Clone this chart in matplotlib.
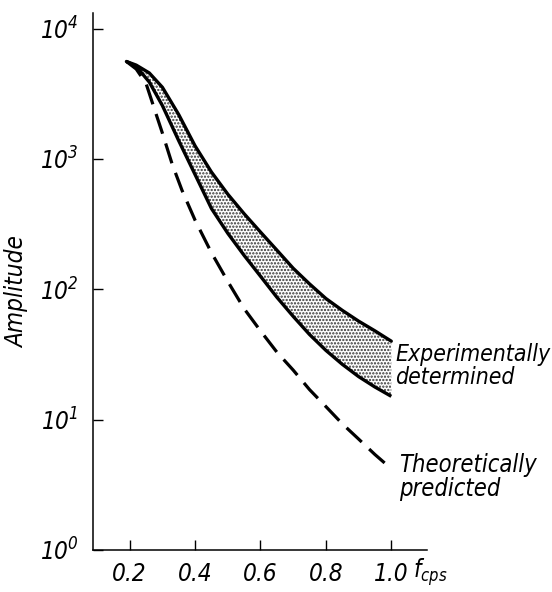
import matplotlib
matplotlib.use("Agg")
import matplotlib.pyplot as plt
from matplotlib import font_manager as fm

# ---- data ----
freq_exp = [0.19, 0.22, 0.26, 0.30, 0.35, 0.40, 0.45, 0.50, 0.55, 0.60, 0.65,
            0.70, 0.75, 0.80, 0.85, 0.90, 0.95, 1.00]
exp_upper = [5600, 5250, 4570, 3550, 2190, 1260, 794, 537, 380, 275, 200,
             145, 110, 85, 69, 57, 48, 40]
exp_lower = [5600, 5130, 3890, 2570, 1380, 759, 417, 269, 182, 126, 87,
             62, 45, 34, 26.6, 21.4, 17.8, 15.1]
freq_theo = [0.19, 0.22, 0.25, 0.28, 0.30, 0.33, 0.36, 0.40, 0.45, 0.50, 0.55,
             0.60, 0.65, 0.70, 0.75, 0.80, 0.85, 0.90, 0.95, 1.00]
theo = [5600, 4900, 3800, 2240, 1580, 912, 575, 339, 191, 115, 71,
        48, 33, 24, 17, 12.6, 9.3, 7.1, 5.4, 4.2]

xticks = [0.2, 0.4, 0.6, 0.8, 1.0]
xtick_labels = ["0.2", "0.4", "0.6", "0.8", "1.0"]
yticks = [1, 10, 100, 1000, 10000]
ytick_labels = [r"$10^{0}$", r"$10^{1}$", r"$10^{2}$", r"$10^{3}$", r"$10^{4}$"]

# ---- fonts: look for a condensed / narrow face ----
cond = [f for f in fm.fontManager.ttflist
        if f.stretch in ('condensed', 'semi-condensed', 'extra-condensed',
                         'ultra-condensed')
        or 'Condensed' in f.fname or 'Narrow' in f.fname]
fam, stretch, fs = 'DejaVu Sans', 'normal', 14
if cond:
    ital = [f for f in cond if f.style in ('italic', 'oblique')]
    pick = (ital or cond)[0]
    fam, stretch, fs = pick.name, pick.stretch, 17.5

plt.rcParams['font.family'] = [fam, 'DejaVu Sans']
plt.rcParams['font.style'] = 'italic'
plt.rcParams['font.stretch'] = stretch
plt.rcParams['mathtext.fontset'] = 'custom'
plt.rcParams['mathtext.rm'] = f'{fam}:italic'
plt.rcParams['mathtext.it'] = f'{fam}:italic'
plt.rcParams['mathtext.default'] = 'it'
plt.rcParams['hatch.linewidth'] = 1.1
plt.rcParams['hatch.color'] = '#333333'

fig = plt.figure(figsize=(5.52, 5.92), dpi=100)
ax = fig.add_axes([0.168, 0.071, 0.606, 0.907])

ax.set_yscale('log')
ax.set_xlim(0.087, 1.11)
ax.set_ylim(1, 10 ** 4.12)

ax.fill_between(freq_exp, exp_lower, exp_upper, facecolor='white',
                hatch='.....', edgecolor='#333333', linewidth=0)
ax.plot(freq_exp, exp_upper, color='black', lw=2.4, solid_capstyle='round',
        solid_joinstyle='round')
ax.plot(freq_exp, exp_lower, color='black', lw=2.4, solid_capstyle='butt',
        solid_joinstyle='round')
ax.plot(freq_theo, theo, color='black', lw=2.3, dashes=(6.5, 3.2))

for s in ['top', 'right']:
    ax.spines[s].set_visible(False)
for s in ['left', 'bottom']:
    ax.spines[s].set_linewidth(1.1)

ax.set_xticks(xticks)
ax.set_xticklabels(xtick_labels)
ax.set_yticks(yticks)
ax.set_yticklabels(ytick_labels)
ax.yaxis.set_minor_locator(matplotlib.ticker.NullLocator())
ax.tick_params(direction='in', length=7, width=1, labelsize=fs, pad=9)
ax.tick_params(axis='y', pad=10)

ax.set_ylabel('Amplitude', fontsize=fs)
ax.yaxis.set_label_coords(-0.19, 0.48)

ax.text(1.066, -0.012, r'$f_{cps}$', transform=ax.get_xaxis_transform(),
        fontsize=fs - 0.5, ha='left', va='top')

ax.text(1.012, 26, 'Experimentally\ndetermined', fontsize=fs - 1,
        ha='left', va='center', linespacing=1.0)
ax.text(1.025, 3.6, 'Theoretically\npredicted', fontsize=fs - 0.5,
        ha='left', va='center', linespacing=1.0)

fig.savefig('out.png', dpi=100)
